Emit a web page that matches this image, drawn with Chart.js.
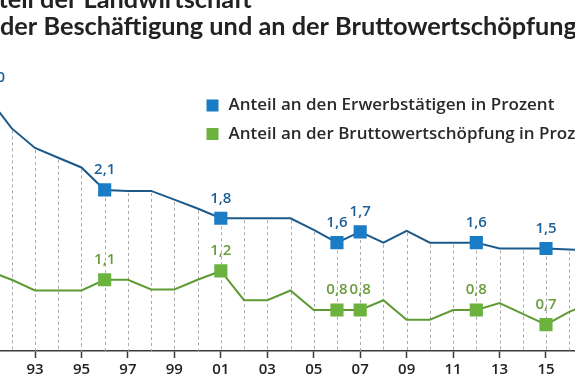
<!DOCTYPE html>
<html>
<head>
<meta charset="utf-8">
<script src="https://cdn.jsdelivr.net/npm/chart.js@4.4.1/dist/chart.umd.min.js"></script>
<style>
    html, body { margin: 0; padding: 0; background: #fff; }
    #frame { position: relative; width: 575px; height: 383px; overflow: hidden; background: #fff; }
    #wrap { position: absolute; left: -60px; top: -40px; width: 700px; height: 431px; }
</style>
</head>
<body>
<div id="frame"><div id="wrap"><canvas id="grafico-linha"></canvas></div></div>
<script>
const YEARS = [1991, 1992, 1993, 1994, 1995, 1996, 1997, 1998, 1999, 2000, 2001, 2002, 2003, 2004,
    2005, 2006, 2007, 2008, 2009, 2010, 2011, 2012, 2013, 2014, 2015, 2016, 2017];

// Anteil an den Erwerbstaetigen (%)
const ERWERBS = [3.05, 2.74, 2.54, 2.44, 2.34, 2.11, 2.10, 2.10, 2.01, 1.92, 1.82, 1.82, 1.82, 1.82,
    1.70, 1.57, 1.68, 1.57, 1.69, 1.57, 1.57, 1.57, 1.51, 1.51, 1.51, 1.50, 1.49];
const ERWERBS_LABELS = ['3,0', null, null, null, null, '2,1', null, null, null, null, '1,8', null, null, null,
    null, '1,6', '1,7', null, null, null, null, '1,6', null, null, '1,5', null, null];

// Anteil an der Bruttowertschoepfung (%)
const BWS = [1.22, 1.13, 1.02, 1.02, 1.02, 1.13, 1.13, 1.03, 1.03, 1.13, 1.22, 0.92, 0.92, 1.02,
    0.82, 0.82, 0.82, 0.92, 0.72, 0.72, 0.82, 0.82, 0.89, 0.78, 0.67, 0.80, 0.90];
const BWS_LABELS = ['1,2', null, null, null, null, '1,1', null, null, null, null, '1,2', null, null, null,
    null, '0,8', '0,8', null, null, null, null, '0,8', null, null, '0,7', null, null];

const TITLE = ['Anteil der Landwirtschaft', 'an der Beschäftigung und an der Bruttowertschöpfung'];

const BLUE_LINE = '#1c5a8b';
const BLUE_MARK = '#1a7cc4';
const BLUE_TEXT = '#1d5f97';
const GREEN_LINE = '#5f9b35';
const GREEN_MARK = '#6cb23f';
const GREEN_TEXT = '#6a9d3d';
const TITLE_FONT = 'Lato, "Open Sans", sans-serif';
const TEXT_FONT = '"Open Sans", Lato, sans-serif';

// gestrichelte Lotlinien von der blauen Linie zur Achse
const dropLines = {
    id: 'dropLines',
    beforeDatasetsDraw(chart) {
        const ctx = chart.ctx;
        const bottom = chart.chartArea.bottom;
        const meta = chart.getDatasetMeta(0);
        ctx.save();
        ctx.strokeStyle = '#a9a9a9';
        ctx.lineWidth = 1;
        ctx.setLineDash([3, 3]);
        meta.data.forEach(p => {
            ctx.beginPath();
            ctx.moveTo(Math.round(p.x) + 0.5, p.y + 2);
            ctx.lineTo(Math.round(p.x) + 0.5, bottom);
            ctx.stroke();
        });
        ctx.restore();
    }
};

const valueLabels = {
    id: 'valueLabels',
    afterDatasetsDraw(chart) {
        const ctx = chart.ctx;
        ctx.save();
        ctx.font = '600 15px ' + TEXT_FONT;
        ctx.textAlign = 'center';
        ctx.textBaseline = 'middle';
        chart.data.datasets.forEach((ds, i) => {
            const meta = chart.getDatasetMeta(i);
            ctx.fillStyle = ds.labelColor;
            meta.data.forEach((p, j) => {
                const txt = ds.valueLabels[j];
                if (!txt) return;
                const dx = (i === 0 && j === 0) ? 6 : 0;
                ctx.fillText(txt, p.x + dx, p.y - 20);
            });
        });
        ctx.restore();
    }
};

const titleAndLegend = {
    id: 'titleAndLegend',
    afterDraw(chart) {
        const ctx = chart.ctx;
        ctx.save();
        ctx.fillStyle = '#222';
        ctx.font = 'bold 25.3px ' + TITLE_FONT;
        ctx.textBaseline = 'alphabetic';
        ctx.textAlign = 'left';
        const x0 = 60 - ctx.measureText('an ').width;
        ctx.fillText(TITLE[0], x0, 48);
        ctx.fillText(TITLE[1], x0, 75);

        ctx.font = '600 17px ' + TEXT_FONT;
        ctx.textBaseline = 'middle';
        chart.data.datasets.forEach((ds, i) => {
            const y = 145.5 + i * 28.5;
            ctx.fillStyle = ds.pointBackgroundColor;
            ctx.fillRect(266.5, y - 6, 12, 12);
            ctx.fillStyle = '#2a2a2a';
            ctx.fillText(ds.label, 288.5, y);
        });
        ctx.restore();
    }
};

const CHART = document.getElementById('grafico-linha');
new Chart(CHART, {
    type: 'line',
    data: {
        datasets: [
            {
                label: 'Anteil an den Erwerbstätigen in Prozent',
                data: YEARS.map((y, i) => ({ x: y, y: ERWERBS[i] })),
                yAxisID: 'y',
                borderColor: BLUE_LINE,
                borderWidth: 2,
                pointStyle: 'rect',
                pointBackgroundColor: BLUE_MARK,
                pointBorderWidth: 0,
                pointRadius: c => ERWERBS_LABELS[c.dataIndex] ? 9.3 : 0,
                valueLabels: ERWERBS_LABELS,
                labelColor: BLUE_TEXT,
                tension: 0
            },
            {
                label: 'Anteil an der Bruttowertschöpfung in Prozent',
                data: YEARS.map((y, i) => ({ x: y, y: BWS[i] })),
                yAxisID: 'y2',
                borderColor: GREEN_LINE,
                borderWidth: 2,
                pointStyle: 'rect',
                pointBackgroundColor: GREEN_MARK,
                pointBorderWidth: 0,
                pointRadius: c => BWS_LABELS[c.dataIndex] ? 9.3 : 0,
                valueLabels: BWS_LABELS,
                labelColor: GREEN_TEXT,
                tension: 0
            }
        ]
    },
    plugins: [dropLines, valueLabels, titleAndLegend],
    options: {
        responsive: true,
        maintainAspectRatio: false,
        animation: false,
        events: [],
        layout: { padding: { left: 25.32, right: 24.32, top: 0, bottom: 0 } },
        plugins: {
            legend: { display: false },
            title: { display: false },
            tooltip: { enabled: false }
        },
        scales: {
            x: {
                type: 'linear',
                min: 1990,
                max: 2018,
                afterFit: s => { s.height = 40; },
                border: { color: '#3a3a3a', width: 1.5 },
                grid: {
                    drawOnChartArea: false,
                    tickLength: 7,
                    tickWidth: 1.5,
                    tickColor: c => (c.tick && c.tick.value % 2 === 1) ? '#3a3a3a' : 'rgba(0,0,0,0)'
                },
                ticks: {
                    stepSize: 1,
                    autoSkip: false,
                    maxRotation: 0,
                    padding: 3,
                    color: '#222',
                    font: { family: TEXT_FONT, weight: '600', size: 15 },
                    callback: v => v % 2 === 1 ? (v === 2017 ? '2017' : String(v).slice(2)) : ''
                }
            },
            y: { display: false, min: 0.46, max: 4.37 },
            y2: { display: false, min: 0.40, max: 4.31 }
        }
    }
});
</script>
</body>
</html>
